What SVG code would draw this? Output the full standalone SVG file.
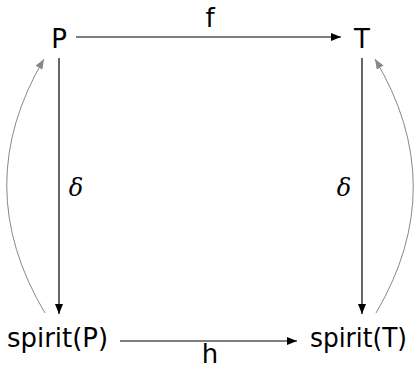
<svg xmlns="http://www.w3.org/2000/svg" width="414" height="371" viewBox="0 0 414 371">
<defs>
<style>
.lbl{font-family:"DejaVu Sans","Liberation Sans",sans-serif;font-size:26px;fill:#000}
.greek{font-family:"DejaVu Serif","Liberation Serif",serif;font-style:italic;font-size:24px;fill:#000}
.edge{fill:none;stroke:#000;stroke-width:1.2}
.back{fill:none;stroke:#888;stroke-width:1}
</style>
<marker id="ah" viewBox="0 0 10 8" refX="10" refY="4" markerWidth="10" markerHeight="8" markerUnits="userSpaceOnUse" orient="auto">
<path d="M0,0 L10,4 L0,8 Z" fill="#000"/>
</marker>
<marker id="ahg" viewBox="0 0 10 8" refX="10" refY="4" markerWidth="10" markerHeight="8" markerUnits="userSpaceOnUse" orient="auto">
<path d="M0,0 L10,4 L0,8 Z" fill="#888"/>
</marker>
</defs>
<g id="connectors">
<line class="edge" x1="76" y1="37" x2="341" y2="37" marker-end="url(#ah)"/>
<line class="edge" x1="120" y1="341" x2="297" y2="341" marker-end="url(#ah)"/>
<line class="edge" x1="59" y1="58" x2="59" y2="314" marker-end="url(#ah)"/>
<line class="edge" x1="362" y1="58" x2="362" y2="314" marker-end="url(#ah)"/>
<path class="back" d="M45,313 Q-31,186 44,59" marker-end="url(#ahg)"/>
<path class="back" d="M376,313 Q451,186 375,59" marker-end="url(#ahg)"/>
<text class="lbl" x="210" y="27" text-anchor="middle">f</text>
<text class="lbl" x="210" y="363" text-anchor="middle">h</text>
<text class="greek" x="76" y="196" text-anchor="middle">δ</text>
<text class="greek" x="344" y="196" text-anchor="middle">δ</text>
</g>
<g id="P"><text class="lbl" x="59" y="48" text-anchor="middle">P</text></g>
<g id="T"><text class="lbl" x="362" y="48" text-anchor="middle">T</text></g>
<g id="spiritP"><text class="lbl" x="7" y="347" textLength="101" lengthAdjust="spacingAndGlyphs">spirit(P)</text></g>
<g id="spiritT"><text class="lbl" x="310" y="347" textLength="97" lengthAdjust="spacingAndGlyphs">spirit(T)</text></g>
</svg>
